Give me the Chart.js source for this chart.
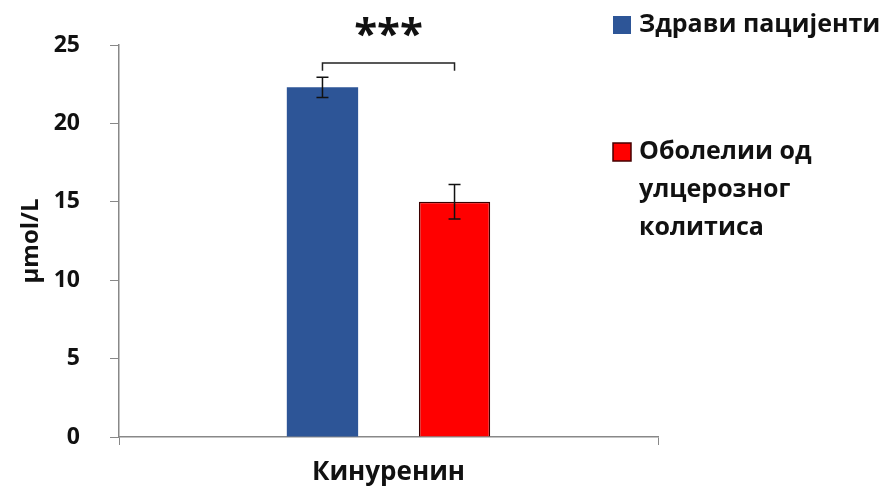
<!DOCTYPE html>
<html>
<head>
<meta charset="utf-8">
<script src="https://cdn.jsdelivr.net/npm/chart.js@4.4.0/dist/chart.umd.min.js"></script>
<style>
  html, body { margin: 0; padding: 0; background: #fff; }
  #wrap { width: 889px; height: 495px; }
</style>
</head>
<body>
<div id="wrap"><canvas id="myChart" width="889" height="495"></canvas></div>
<script>
const categories = ["Кинуренин"];
const seriesNames = [["Здрави пацијенти"], ["Оболелии од", "улцерозног", "колитиса"]];
const healthy = [22.3];
const patients = [15.0];
const healthyErr = [0.65];
const patientsErr = [1.1];
const yTicks = [0, 5, 10, 15, 20, 25];
const signif = "***";

const FONT = "'Open Sans', 'DejaVu Sans', sans-serif";

const extras = {
    id: "extras",
    afterDatasetsDraw(chart) {
        const ctx = chart.ctx, y = chart.scales.y;
        const errs = [healthyErr, patientsErr];
        const xs = [];
        ctx.save();
        ctx.strokeStyle = "#111";
        ctx.lineWidth = 1.5;
        chart.data.datasets.forEach((ds, i) => {
            const bar = chart.getDatasetMeta(i).data[0];
            const v = ds.data[0], e = errs[i][0];
            const y1 = y.getPixelForValue(v + e), y2 = y.getPixelForValue(v - e);
            ctx.beginPath();
            ctx.moveTo(bar.x, y1); ctx.lineTo(bar.x, y2);
            ctx.moveTo(bar.x - 6, y1); ctx.lineTo(bar.x + 6, y1);
            ctx.moveTo(bar.x - 6, y2); ctx.lineTo(bar.x + 6, y2);
            ctx.stroke();
            xs.push(bar.x);
        });
        // significance bracket
        const yb = y.getPixelForValue(23.85), yd = y.getPixelForValue(23.35);
        ctx.strokeStyle = "#222";
        ctx.beginPath();
        ctx.moveTo(xs[0], yd); ctx.lineTo(xs[0], yb);
        ctx.lineTo(xs[1], yb); ctx.lineTo(xs[1], yd);
        ctx.stroke();
        ctx.fillStyle = "#111";
        ctx.font = "bold 42px " + FONT;
        ctx.textAlign = "center";
        ctx.textBaseline = "middle";
        ctx.fillText(signif, (xs[0] + xs[1]) / 2, y.getPixelForValue(25.6));
        // legend
        ctx.font = "bold 25px " + FONT;
        ctx.textAlign = "left";
        const rows = [25, 152];
        chart.data.datasets.forEach((ds, i) => {
            ctx.fillStyle = ds.backgroundColor;
            ctx.fillRect(613, rows[i] - 9, 18, 18);
            if (i === 1) { ctx.strokeStyle = "#400"; ctx.lineWidth = 1.5; ctx.strokeRect(613, rows[i] - 9, 18, 18); }
            ctx.fillStyle = "#111";
            seriesNames[i].forEach((t, k) => ctx.fillText(t, 639, rows[i] + k * 38));
        });
        ctx.restore();
    }
};

new Chart(document.getElementById("myChart").getContext("2d"), {
    type: "bar",
    data: {
        labels: categories,
        datasets: [
            { label: seriesNames[0].join(" "), data: healthy, backgroundColor: "#2D5597", borderWidth: 0,
              barPercentage: 0.54, categoryPercentage: 0.49 },
            { label: seriesNames[1].join(" "), data: patients, backgroundColor: "#FF0000", borderColor: "#3a0000", borderWidth: 1.5,
              barPercentage: 0.54, categoryPercentage: 0.49 }
        ]
    },
    options: {
        responsive: false,
        animation: false,
        layout: { padding: { left: 0, right: 231, top: 45, bottom: 0 } },
        plugins: { legend: { display: false }, tooltip: { enabled: false } },
        scales: {
            x: {
                grid: { drawOnChartArea: false, color: "#888", tickLength: 8, offset: true },
                border: { color: "#888", width: 1.5 },
                ticks: { color: "#111", font: { family: FONT, size: 26, weight: "bold" }, padding: 12 },
                afterFit(s) { s.height = 58; }
            },
            y: {
                min: 0, max: 25,
                afterBuildTicks(s) { s.ticks = yTicks.map(v => ({ value: v })); },
                grid: { drawOnChartArea: false, color: "#888", tickLength: 9 },
                border: { color: "#888", width: 1.5 },
                ticks: { color: "#111", font: { family: FONT, size: 23, weight: "bold" }, padding: 30 },
                title: { display: true, text: "μmol/L", color: "#111", font: { family: FONT, size: 24, weight: "bold" }, padding: { top: 17, bottom: 0 } },
                afterFit(s) { s.width = 119; }
            }
        }
    },
    plugins: [extras]
});
</script>
</body>
</html>
